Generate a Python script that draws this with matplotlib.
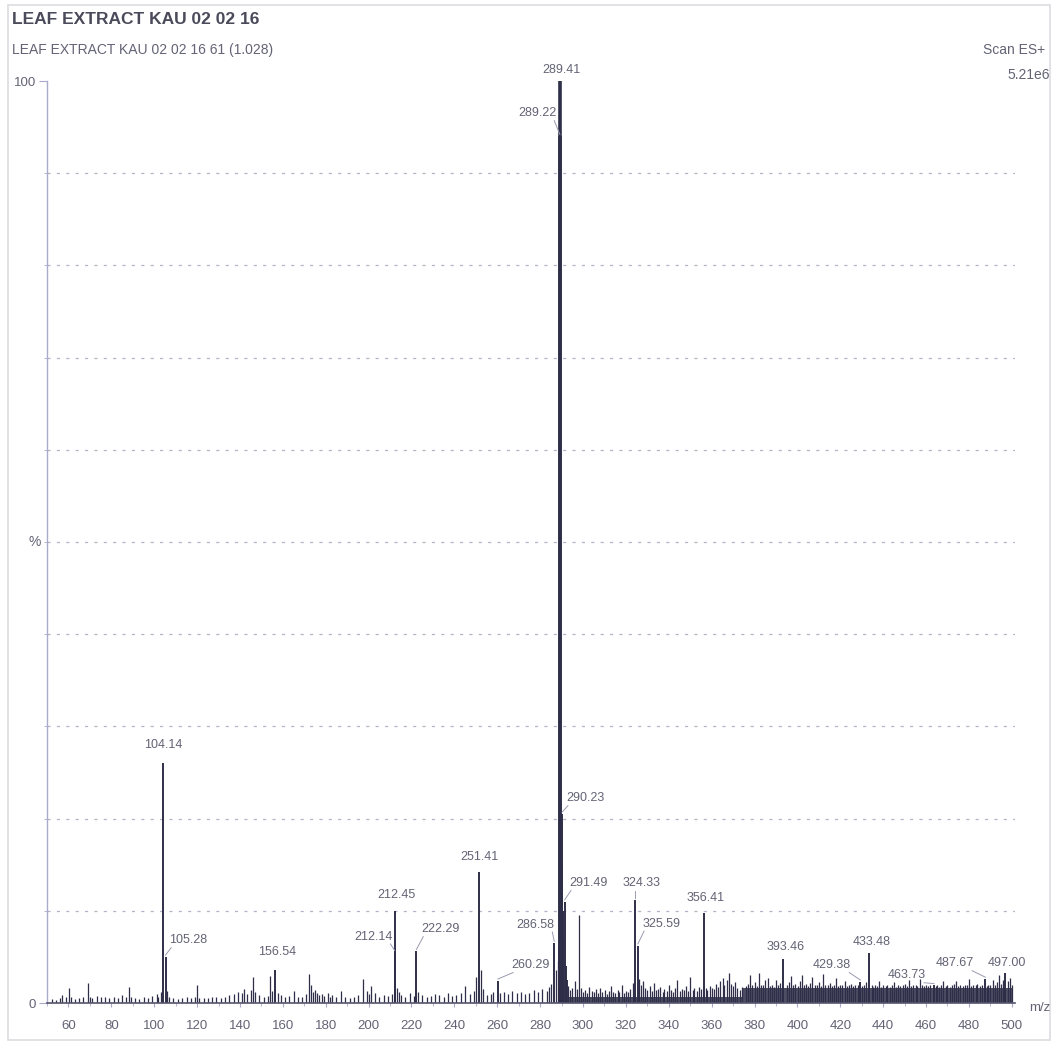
import matplotlib
matplotlib.use("Agg")
import matplotlib.pyplot as plt
from matplotlib.patches import Rectangle
import numpy as np

plt.rcParams['font.family'] = ['Liberation Sans Narrow', 'Liberation Sans', 'DejaVu Sans']

# --- Data ---
title = "LEAF EXTRACT KAU 02 02 16"
subtitle = "LEAF EXTRACT KAU 02 02 16 61 (1.028)"
scan_info = "Scan ES+"
base_intensity = "5.21e6"

# labelled peaks: m/z and relative intensity (%)
peak_mz = [289.41, 289.22, 104.14, 105.28, 156.54, 212.45, 212.14, 222.29, 251.41,
           260.29, 286.58, 290.23, 291.49, 324.33, 325.59, 356.41, 393.46, 429.38,
           433.48, 463.73, 487.67, 497.00]
peak_int = [100.0, 94.0, 26.0, 5.0, 3.6, 10.0, 5.5, 5.6, 14.2,
            2.4, 6.5, 20.5, 11.0, 11.2, 6.2, 9.8, 4.8, 2.3,
            5.4, 1.9, 2.6, 3.3]

# unlabelled part of the base peak cluster
cluster_mz = [288.9, 289.7, 290.0, 290.5, 290.8, 291.9, 292.5]
cluster_int = [6.0, 19.0, 15.0, 10.0, 7.0, 4.0, 2.5]

# small unlabelled peaks / noise
noise_mz = [52.1, 54.0, 56.1, 57.1, 58.9, 60.1, 61.0, 63.0, 65.1, 67.0, 69.1, 70.1, 71.0,
            73.1, 75.0, 77.1, 79.0, 81.1, 83.0, 85.1, 87.0, 88.1, 89.1, 91.1, 93.0, 95.1,
            97.0, 98.9, 101.1, 102.0, 103.2,
            106.2, 107.1, 109.0, 111.1, 113.0, 115.1, 117.0, 119.1, 120.1, 121.0, 123.1,
            125.0, 127.1, 129.0, 131.1, 133.0, 135.1, 137.0, 139.1, 141.0, 142.1, 143.1,
            145.0, 146.1, 147.1, 149.0, 151.1, 153.0, 154.2, 155.1, 157.9, 159.0, 161.1,
            163.0, 165.1, 167.0, 169.1, 171.0, 172.1, 173.1, 174.0, 175.1, 176.1, 177.0,
            178.1, 179.0, 181.1, 182.0, 183.1, 185.0, 187.1, 189.0, 191.1, 193.0, 195.1,
            197.5, 199.1, 200.1, 201.0, 203.1, 205.0, 207.1, 209.0, 211.1,
            213.1, 214.0, 215.1, 217.0, 219.1, 221.0, 223.1, 225.0, 227.1, 229.0, 231.1,
            233.0, 235.1, 237.0, 239.1, 241.0, 243.1, 245.0, 247.1, 249.0, 250.2, 252.3,
            253.2, 255.1, 257.0, 258.1, 261.1, 263.0, 265.1, 267.0, 269.1, 271.0, 273.1,
            275.0, 277.1, 279.0, 281.1, 283.0, 284.1, 285.2, 287.4, 288.2,
            293.1, 294.0, 295.1, 296.1, 297.0, 298.3, 299.1, 300.1, 301.0, 302.1, 303.0,
            304.1, 305.0, 306.1, 307.0, 308.1, 309.0, 310.1, 311.0, 312.1, 313.0, 314.1,
            315.0, 316.1, 317.0, 318.1, 319.0, 320.1, 321.0, 322.1, 323.1, 326.1, 326.9,
            328.0, 329.1, 330.0, 331.1, 332.0, 333.1, 334.0, 335.1, 336.0, 337.1, 338.0,
            339.1, 340.0, 341.1, 342.0, 343.1, 344.0, 345.1, 346.0, 347.1, 348.0, 349.1,
            350.0, 351.1, 352.0, 353.1, 354.0, 355.1, 357.3, 358.0, 359.1, 360.0, 361.1,
            362.0, 363.1, 364.0, 365.1, 366.0, 367.1, 368.0, 369.1, 370.0, 371.1, 372.0,
            373.1, 374.0,
            376.1, 377.0, 378.1, 379.0, 380.1, 381.0, 382.1, 383.0, 384.1, 385.0, 386.1,
            387.0, 388.1, 389.0, 390.1, 391.0, 392.1, 395.0, 396.1, 397.0, 398.1, 399.0,
            400.1, 401.0, 402.1, 403.0, 404.1, 405.0, 406.1, 407.0, 408.1, 409.0, 410.1,
            411.0, 412.1, 413.0, 414.1, 415.0, 416.1, 417.0, 418.1, 419.0, 420.1, 421.0,
            422.1, 423.0, 424.1, 425.0, 426.1, 427.0, 428.1, 430.1, 431.0, 432.1, 434.6,
            435.1, 436.0, 437.1, 438.0, 439.1, 440.0, 441.1, 442.0, 443.1, 444.0, 445.1,
            446.0, 447.1, 448.0, 449.1, 450.0, 451.1, 452.0, 453.1, 454.0, 455.1, 456.0,
            457.1, 458.0, 459.1, 460.0, 461.1, 462.0, 464.5, 465.1, 466.0, 467.1, 468.0,
            469.1, 470.0, 471.1, 472.0, 473.1, 474.0, 475.1, 476.0, 477.1, 478.0, 479.1,
            480.0, 481.1, 482.0, 483.1, 484.0, 485.1, 486.0, 488.5, 489.1, 490.0, 491.1,
            492.0, 493.1, 494.0, 495.1, 496.0, 498.1, 499.0, 500.0]
noise_int = [0.4, 0.3, 0.5, 0.9, 0.6, 1.6, 0.6, 0.4, 0.5, 0.7, 2.2, 0.7, 0.5,
             0.8, 0.7, 0.6, 0.5, 0.6, 0.5, 0.9, 0.7, 1.7, 0.6, 0.5, 0.4, 0.6,
             0.5, 0.8, 1.0, 0.6, 1.2,
             1.3, 0.6, 0.5, 0.4, 0.5, 0.6, 0.5, 0.7, 2.0, 0.5, 0.5,
             0.5, 0.7, 0.6, 0.5, 0.7, 0.9, 1.0, 1.2, 1.1, 1.5, 1.0,
             1.4, 2.8, 1.2, 0.9, 0.7, 0.8, 2.9, 1.3, 1.1, 0.9, 0.6,
             0.8, 1.3, 0.7, 0.6, 1.0, 3.1, 2.0, 1.2, 1.4, 1.1, 0.9,
             1.0, 0.8, 1.1, 0.7, 0.9, 0.6, 1.3, 0.7, 0.5, 0.6, 0.9,
             2.6, 1.3, 1.0, 1.8, 1.1, 0.7, 0.9, 0.8, 1.0,
             1.6, 1.2, 0.9, 0.7, 1.1, 0.8, 1.2, 0.9, 0.7, 0.8, 1.0,
             0.9, 0.7, 1.1, 0.8, 0.9, 1.1, 1.8, 1.0, 1.3, 2.8, 3.6,
             1.5, 0.9, 1.0, 1.2, 1.1, 1.2, 1.0, 1.3, 1.1, 1.2, 1.0,
             1.1, 1.4, 1.2, 1.5, 1.3, 1.7, 2.1, 3.6, 4.6,
             1.8, 1.4, 1.6, 2.4, 1.5, 9.5, 1.6, 1.2, 1.4, 1.1, 1.7,
             1.3, 1.2, 1.5, 1.1, 1.6, 1.2, 1.4, 1.0, 1.3, 1.8, 1.2,
             1.1, 1.4, 1.2, 1.9, 1.1, 1.3, 1.2, 1.5, 2.2, 2.6, 2.0,
             2.4, 1.6, 1.4, 1.8, 1.3, 2.2, 1.4, 1.5, 1.7, 1.2, 1.5,
             1.3, 2.0, 1.4, 1.2, 1.6, 2.5, 1.3, 1.5, 1.4, 1.8, 1.3,
             2.8, 1.4, 1.6, 1.3, 1.7, 1.5, 1.6, 1.4, 1.8, 1.6, 1.5,
             2.1, 1.7, 2.4, 2.7, 2.0, 2.5, 3.2, 2.1, 1.8, 2.3, 1.6,
             1.4, 1.7,
             1.8, 2.1, 3.0, 1.9, 2.3, 1.8, 3.2, 2.0, 1.9, 2.5, 2.7,
             1.8, 2.0, 1.7, 2.5, 1.9, 2.2, 2.0, 2.3, 2.9, 1.9, 2.1,
             1.8, 2.4, 3.0, 1.9, 2.1, 1.8, 2.2, 2.8, 1.9, 2.0, 2.3,
             1.8, 3.1, 2.0, 1.9, 2.2, 1.8, 2.0, 2.7, 1.8, 2.0, 1.9,
             2.4, 1.8, 1.9, 2.1, 1.8, 2.0, 1.9, 1.8, 2.0, 2.3, 1.9,
             1.7, 1.9, 1.8, 2.4, 1.7, 1.9, 1.8, 2.0, 1.7, 1.9, 2.3,
             1.7, 2.0, 1.8, 1.9, 2.1, 1.8, 2.5, 1.8, 1.9, 2.0, 1.8,
             2.6, 1.9, 1.8, 2.0, 1.8, 1.9, 1.8, 2.0, 1.7, 1.9, 2.4,
             1.8, 2.0, 1.7, 1.9, 2.1, 2.4, 1.8, 1.9, 1.8, 2.0, 1.9,
             2.6, 1.8, 2.0, 1.9, 2.1, 1.8, 2.0, 1.8, 2.0, 1.9, 2.5,
             2.0, 2.3, 3.0, 2.1, 2.5, 2.4, 2.7, 1.9]

# dense noise floor: moderate after the base peak, heavy at the high-mass end
floor_mz = [293.0, 374.0, 374.0, 500.5]
floor_int = [0.6, 0.6, 1.6, 1.6]

x_ticks = list(range(60, 501, 20))

# --- Layout (label placement, in data units) ---
label_xy = [(289.8, 101.2), (278.6, 96.5), (104.3, 28.0), (115.9, 6.8), (157.4, 5.5),
            (212.9, 11.7), (202.2, 7.2), (233.5, 8.0), (251.6, 15.8), (275.4, 4.1),
            (277.7, 8.5), (301.0, 22.2), (302.4, 13.0), (327.5, 13.0), (336.5, 8.6),
            (357.4, 11.4), (394.3, 6.1), (416.2, 4.1), (434.8, 6.6), (451.1, 3.0),
            (473.5, 4.3), (497.8, 4.3)]

TEXT = '#636375'
INK = '#2e2e48'
AXIS = '#a9a9c9'

fig = plt.figure(figsize=(10.57, 10.48), dpi=100)
ax = fig.add_axes([47 / 1057, 45 / 1048, 968 / 1057, 922 / 1048])

# --- Peaks ---
ax.fill_between(floor_mz, 0, floor_int, color=INK, alpha=0.85, linewidth=0)
ax.vlines(noise_mz, 0, noise_int, color=INK, linewidth=0.9)
ax.vlines(cluster_mz, 0, cluster_int, color=INK, linewidth=1.4)
ax.vlines(peak_mz, 0, peak_int, color=INK, linewidth=1.4)
ax.vlines(peak_mz[:2], 0, peak_int[:2], color=INK, linewidth=2.6)

# --- Peak labels with leader lines ---
for mz, h, (lx, ly) in zip(peak_mz, peak_int, label_xy):
    ax.text(lx, ly, f"{mz:.2f}", ha='center', va='center', fontsize=9,
            color=TEXT, clip_on=False)
    dx = lx - mz
    if abs(dx) > 3 and ly - 0.8 > h:
        sx = lx - np.sign(dx) * min(abs(dx), 8.0)
        ax.plot([sx, mz], [ly - 0.8, h + 0.2], color='#9a9ab0', linewidth=0.7)

# --- Axes styling ---
ax.set_xlim(50.2, 501.5)
ax.set_ylim(0, 100)
for side in ['top', 'right']:
    ax.spines[side].set_visible(False)
ax.spines['left'].set_color(AXIS)
ax.spines['bottom'].set_color('#55556e')
ax.spines['left'].set_linewidth(1.0)
ax.spines['bottom'].set_linewidth(1.2)

ax.set_xticks(x_ticks)
ax.set_xticks(range(50, 501, 10), minor=True)
ax.tick_params(axis='x', which='major', length=3, color=AXIS, labelsize=9.5,
               labelcolor=TEXT, pad=9)
ax.tick_params(axis='x', which='minor', length=2, color=AXIS)
ax.set_yticks([0, 100])
ax.set_yticklabels(['0', '100'])
ax.set_yticks(range(10, 100, 10), minor=True)
ax.tick_params(axis='y', which='major', length=6, color=AXIS, labelsize=9.5,
               labelcolor=TEXT, pad=2)
ax.tick_params(axis='y', which='minor', length=2, color=AXIS)
ax.grid(True, axis='y', which='minor', linestyle=(0, (2.5, 5)), color='#b4b4c6',
        linewidth=0.9)

# --- Header and annotations ---
fig.text(12 / 1057, 1 - 20 / 1048, title, fontsize=12.5, fontweight='bold',
         color='#4a4a5a', va='center', ha='left')
fig.text(12 / 1057, 1 - 50 / 1048, subtitle, fontsize=10, color=TEXT,
         va='center', ha='left')
fig.text(1045 / 1057, 1 - 50 / 1048, scan_info, fontsize=10, color=TEXT,
         va='center', ha='right')
fig.text(1050 / 1057, 1 - 75 / 1048, base_intensity, fontsize=10, color=TEXT,
         va='center', ha='right')
fig.text(35 / 1057, 1 - 542 / 1048, '%', fontsize=10, color=TEXT,
         va='center', ha='center')
fig.text(1040 / 1057, 1 - 1008 / 1048, 'm/z', fontsize=9.5, color=TEXT,
         va='center', ha='center')

# faint outer frame of the scanned page
fig.patches.append(Rectangle((8 / 1057, 1 - 1040 / 1048), 1042 / 1057, 1035 / 1048,
                             transform=fig.transFigure, fill=False,
                             edgecolor='#dcdce2', linewidth=1.2))

fig.savefig('out.png', dpi=100)
plt.close(fig)
